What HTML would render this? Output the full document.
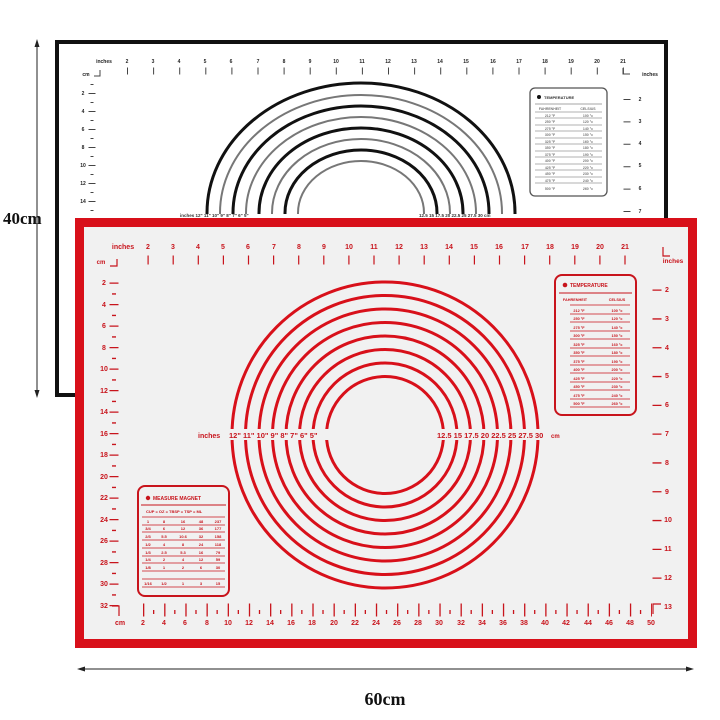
<!DOCTYPE html>
<html><head><meta charset="utf-8"><style>
html,body{margin:0;padding:0;background:#fff;}
svg{display:block;}
text{font-family:"Liberation Sans",sans-serif;font-weight:bold;}
text.serif{font-family:"Liberation Serif",serif;}
</style></head><body>
<svg width="720" height="720" viewBox="0 0 720 720" xmlns="http://www.w3.org/2000/svg">
<defs>
<clipPath id="bc"><rect x="59" y="44" width="605" height="170"/></clipPath>
</defs>
<rect width="720" height="720" fill="#fff"/>

<!-- Black mat -->
<rect x="57" y="42" width="609" height="353" fill="#fff" stroke="#111" stroke-width="4"/>
<g font-size="5" fill="#222" text-anchor="middle">
<text x="104" y="63">inches</text>
<text x="127" y="63">2</text><text x="153" y="63">3</text><text x="179" y="63">4</text><text x="205" y="63">5</text><text x="231" y="63">6</text><text x="258" y="63">7</text><text x="284" y="63">8</text><text x="310" y="63">9</text><text x="336" y="63">10</text><text x="362" y="63">11</text><text x="388" y="63">12</text><text x="414" y="63">13</text><text x="440" y="63">14</text><text x="466" y="63">15</text><text x="493" y="63">16</text><text x="519" y="63">17</text><text x="545" y="63">18</text><text x="571" y="63">19</text><text x="597" y="63">20</text><text x="623" y="63">21</text>
<text x="650" y="76">inches</text>
<text x="86" y="76">cm</text>
<text x="83" y="95">2</text><text x="83" y="113">4</text><text x="83" y="131">6</text><text x="83" y="149">8</text><text x="83" y="167">10</text><text x="83" y="185">12</text><text x="83" y="203">14</text>
<text x="640" y="101">2</text><text x="640" y="123">3</text><text x="640" y="145">4</text><text x="640" y="167">5</text><text x="640" y="190">6</text><text x="640" y="213">7</text>
</g>
<line x1="127" y1="71" x2="624" y2="71" stroke="#444" stroke-width="7" stroke-dasharray="1 25.1"/>
<line x1="92" y1="93" x2="92" y2="215" stroke="#444" stroke-width="7" stroke-dasharray="1 17"/>
<line x1="92" y1="84" x2="92" y2="215" stroke="#444" stroke-width="3" stroke-dasharray="1 17"/>
<line x1="627" y1="99" x2="627" y2="215" stroke="#444" stroke-width="7" stroke-dasharray="1 21.4"/>
<path d="M94 76 H100 V70 M623 68 V74 H630" fill="none" stroke="#444" stroke-width="1"/>
<g clip-path="url(#bc)" fill="none">
<ellipse cx="361" cy="213" rx="154" ry="130" stroke="#111" stroke-width="3"/>
<ellipse cx="361" cy="213" rx="141" ry="118" stroke="#777" stroke-width="2"/>
<ellipse cx="361" cy="213" rx="128" ry="107" stroke="#111" stroke-width="3"/>
<ellipse cx="361" cy="213" rx="115" ry="96" stroke="#777" stroke-width="2"/>
<ellipse cx="361" cy="213" rx="102" ry="85" stroke="#111" stroke-width="3"/>
<ellipse cx="361" cy="213" rx="89" ry="74" stroke="#777" stroke-width="2"/>
<ellipse cx="361" cy="213" rx="76" ry="63" stroke="#111" stroke-width="3"/>
<ellipse cx="361" cy="213" rx="63" ry="52" stroke="#777" stroke-width="2"/>
</g>
<rect x="530" y="88" width="77" height="108" rx="5" fill="#fff" stroke="#555" stroke-width="1.3"/>
<circle cx="539" cy="97" r="2" fill="#111"/>
<text x="544" y="99" font-size="4" fill="#333">TEMPERATURE</text>
<line x1="535" y1="104" x2="602" y2="104" stroke="#888" stroke-width="0.8"/>
<g stroke="#999" stroke-width="0.7"><path d="M535 112H602M535 118H602M535 125H602M535 131H602M535 138H602M535 144H602M535 151H602M535 157H602M535 164H602M535 170H602M535 177H602M535 183H602"/></g>
<g font-size="3.5" fill="#777" text-anchor="middle"><text x="550" y="110">FAHRENHEIT</text><text x="588" y="110">CELSIUS</text>
<text x="550" y="117">212 °F</text><text x="588" y="117">100 °c</text><text x="550" y="123">250 °F</text><text x="588" y="123">120 °c</text><text x="550" y="130">275 °F</text><text x="588" y="130">140 °c</text><text x="550" y="136">300 °F</text><text x="588" y="136">150 °c</text><text x="550" y="143">325 °F</text><text x="588" y="143">160 °c</text><text x="550" y="149">350 °F</text><text x="588" y="149">180 °c</text><text x="550" y="156">375 °F</text><text x="588" y="156">190 °c</text><text x="550" y="162">400 °F</text><text x="588" y="162">200 °c</text><text x="550" y="169">425 °F</text><text x="588" y="169">220 °c</text><text x="550" y="175">450 °F</text><text x="588" y="175">230 °c</text><text x="550" y="182">475 °F</text><text x="588" y="182">240 °c</text><text x="550" y="190">500 °F</text><text x="588" y="190">260 °c</text></g>
<g font-size="4.5" fill="#333"><text x="180" y="217">inches 12" 11" 10" 9" 8" 7" 6" 5"</text><text x="419" y="217">12.5 15 17.5 20 22.5 25 27.5 30 cm</text></g>

<!-- Red mat -->
<rect x="79.5" y="222.5" width="613" height="421" fill="#f1f1f1" stroke="#d8101a" stroke-width="9"/>
<g fill="none" stroke="#d8101a" stroke-width="3">
<circle cx="385" cy="435" r="153"/>
<circle cx="385" cy="435" r="139.5"/>
<circle cx="385" cy="435" r="126"/>
<circle cx="385" cy="435" r="112.5"/>
<circle cx="385" cy="435" r="99"/>
<circle cx="385" cy="435" r="85.5"/>
<circle cx="385" cy="435" r="72"/>
<circle cx="385" cy="435" r="58.5"/>
</g>
<rect x="228" y="429" width="106" height="11" fill="#f1f1f1"/>
<rect x="436" y="429" width="110" height="11" fill="#f1f1f1"/>
<g fill="#c8141c">
<text x="198" y="438" font-size="7">inches</text>
<text x="229" y="438" font-size="7.5">12" 11" 10" 9"  8"  7"  6"  5"</text>
<text x="437" y="438" font-size="7.5">12.5 15 17.5 20 22.5 25 27.5 30</text>
<text x="551" y="438" font-size="6">cm</text>
</g>
<g font-size="7" fill="#c8141c" text-anchor="middle">
<text x="123" y="249">inches</text>
<text x="148" y="249">2</text><text x="173" y="249">3</text><text x="198" y="249">4</text><text x="223" y="249">5</text><text x="248" y="249">6</text><text x="274" y="249">7</text><text x="299" y="249">8</text><text x="324" y="249">9</text><text x="349" y="249">10</text><text x="374" y="249">11</text><text x="399" y="249">12</text><text x="424" y="249">13</text><text x="449" y="249">14</text><text x="474" y="249">15</text><text x="499" y="249">16</text><text x="525" y="249">17</text><text x="550" y="249">18</text><text x="575" y="249">19</text><text x="600" y="249">20</text><text x="625" y="249">21</text>
<text x="673" y="263" font-size="6.5">inches</text>
<text x="101" y="264" font-size="6">cm</text>
<text x="104" y="285">2</text><text x="104" y="307">4</text><text x="104" y="328">6</text><text x="104" y="350">8</text><text x="104" y="371">10</text><text x="104" y="393">12</text><text x="104" y="414">14</text><text x="104" y="436">16</text><text x="104" y="457">18</text><text x="104" y="479">20</text><text x="104" y="500">22</text><text x="104" y="522">24</text><text x="104" y="543">26</text><text x="104" y="565">28</text><text x="104" y="586">30</text><text x="104" y="608">32</text>
<text x="667" y="292">2</text><text x="667" y="321">3</text><text x="667" y="350">4</text><text x="667" y="378">5</text><text x="667" y="407">6</text><text x="667" y="436">7</text><text x="667" y="465">8</text><text x="667" y="494">9</text><text x="668" y="522">10</text><text x="668" y="551">11</text><text x="668" y="580">12</text><text x="668" y="609">13</text>
<text x="120" y="625">cm</text>
<text x="143" y="625">2</text><text x="164" y="625">4</text><text x="185" y="625">6</text><text x="207" y="625">8</text><text x="228" y="625">10</text><text x="249" y="625">12</text><text x="270" y="625">14</text><text x="291" y="625">16</text><text x="312" y="625">18</text><text x="334" y="625">20</text><text x="355" y="625">22</text><text x="376" y="625">24</text><text x="397" y="625">26</text><text x="418" y="625">28</text><text x="439" y="625">30</text><text x="461" y="625">32</text><text x="482" y="625">34</text><text x="503" y="625">36</text><text x="524" y="625">38</text><text x="545" y="625">40</text><text x="566" y="625">42</text><text x="588" y="625">44</text><text x="609" y="625">46</text><text x="630" y="625">48</text><text x="651" y="625">50</text>
</g>
<g stroke="#c8141c">
<line x1="147.5" y1="260" x2="626" y2="260" stroke-width="9" stroke-dasharray="1.2 23.9"/>
<line x1="114" y1="282.5" x2="114" y2="607" stroke-width="9" stroke-dasharray="1.3 20.2"/>
<line x1="114" y1="293.3" x2="114" y2="600" stroke-width="4" stroke-dasharray="1.3 20.2"/>
<line x1="657" y1="289.5" x2="657" y2="580" stroke-width="9" stroke-dasharray="1.3 27.5"/>
<line x1="143" y1="610" x2="652" y2="610" stroke-width="13" stroke-dasharray="1.3 19.87"/>
<line x1="153" y1="612" x2="645" y2="612" stroke-width="4" stroke-dasharray="1.3 19.87"/>
</g>
<path d="M110 266 H117 V259 M112 606 H119 V616 M653 614 V604 H661 M663 247 V256 H670" fill="none" stroke="#c8141c" stroke-width="1.2"/>

<!-- red temperature box -->
<rect x="555" y="275" width="81" height="140" rx="7" fill="#f1f1f1" stroke="#c8141c" stroke-width="2"/>
<circle cx="565" cy="285" r="2.3" fill="#c8141c"/>
<text x="570" y="287" font-size="5" fill="#c8141c">TEMPERATURE</text>
<line x1="559" y1="293" x2="632" y2="293" stroke="#c8141c" stroke-width="1"/>
<g font-size="3.8" fill="#c8141c" text-anchor="middle"><text x="575" y="301">FAHRENHEIT</text><text x="617" y="301">CELSIUS</text></g>
<g stroke="#c8141c" stroke-width="0.8"><path d="M570 305H630M570 314H630M570 322H630M570 331H630M570 339H630M570 348H630M570 356H630M570 365H630M570 373H630M570 382H630M570 390H630M570 399H630M570 407H630"/></g>
<g font-size="3.8" fill="#c8141c" text-anchor="middle">
<text x="579" y="312">212 °F</text><text x="617" y="312">100 °c</text><text x="579" y="320">250 °F</text><text x="617" y="320">120 °c</text><text x="579" y="329">275 °F</text><text x="617" y="329">140 °c</text><text x="579" y="337">300 °F</text><text x="617" y="337">150 °c</text><text x="579" y="346">325 °F</text><text x="617" y="346">160 °c</text><text x="579" y="354">350 °F</text><text x="617" y="354">180 °c</text><text x="579" y="363">375 °F</text><text x="617" y="363">190 °c</text><text x="579" y="371">400 °F</text><text x="617" y="371">200 °c</text><text x="579" y="380">425 °F</text><text x="617" y="380">220 °c</text><text x="579" y="388">450 °F</text><text x="617" y="388">230 °c</text><text x="579" y="397">475 °F</text><text x="617" y="397">240 °c</text><text x="579" y="405">500 °F</text><text x="617" y="405">260 °c</text></g>

<!-- measure magnet box -->
<rect x="138" y="486" width="91" height="110" rx="7" fill="#f1f1f1" stroke="#c8141c" stroke-width="2"/>
<circle cx="148" cy="498" r="2.2" fill="#c8141c"/>
<text x="153" y="500" font-size="5" fill="#c8141c">MEASURE MAGNET</text>
<line x1="141" y1="505" x2="226" y2="505" stroke="#c8141c" stroke-width="1"/>
<text x="146" y="513" font-size="4" fill="#c8141c">CUP = OZ = TBSP = TSP = ML</text>
<g stroke="#c8141c" stroke-width="0.8"><path d="M142 517H225M142 525H225M142 532H225M142 540H225M142 548H225M142 556H225M142 563H225M142 571H225M142 579H225M142 587H225"/></g>
<g font-size="4" fill="#c8141c" text-anchor="middle">
<text x="148" y="523">1</text><text x="164" y="523">8</text><text x="183" y="523">16</text><text x="201" y="523">48</text><text x="218" y="523">237</text>
<text x="148" y="530">3/4</text><text x="164" y="530">6</text><text x="183" y="530">12</text><text x="201" y="530">36</text><text x="218" y="530">177</text>
<text x="148" y="538">2/3</text><text x="164" y="538">5.5</text><text x="183" y="538">10.6</text><text x="201" y="538">32</text><text x="218" y="538">158</text>
<text x="148" y="546">1/2</text><text x="164" y="546">4</text><text x="183" y="546">8</text><text x="201" y="546">24</text><text x="218" y="546">118</text>
<text x="148" y="554">1/3</text><text x="164" y="554">2.5</text><text x="183" y="554">5.3</text><text x="201" y="554">16</text><text x="218" y="554">79</text>
<text x="148" y="561">1/4</text><text x="164" y="561">2</text><text x="183" y="561">4</text><text x="201" y="561">12</text><text x="218" y="561">59</text>
<text x="148" y="569">1/8</text><text x="164" y="569">1</text><text x="183" y="569">2</text><text x="201" y="569">6</text><text x="218" y="569">30</text>
<text x="148" y="585">1/16</text><text x="164" y="585">1/2</text><text x="183" y="585">1</text><text x="201" y="585">3</text><text x="218" y="585">15</text>
</g>

<!-- dimension arrows -->
<line x1="37" y1="44" x2="37" y2="393" stroke="#222" stroke-width="1"/>
<path d="M37 39 L34.5 47 L39.5 47 Z M37 398 L34.5 390 L39.5 390 Z" fill="#222"/>
<text class="serif" x="3" y="224" font-size="17" fill="#111">40cm</text>
<line x1="82" y1="669" x2="689" y2="669" stroke="#222" stroke-width="1"/>
<path d="M77 669 L85 666.5 L85 671.5 Z M694 669 L686 666.5 L686 671.5 Z" fill="#222"/>
<text class="serif" x="385" y="705" text-anchor="middle" font-size="18" fill="#111">60cm</text>
</svg>
</body></html>
